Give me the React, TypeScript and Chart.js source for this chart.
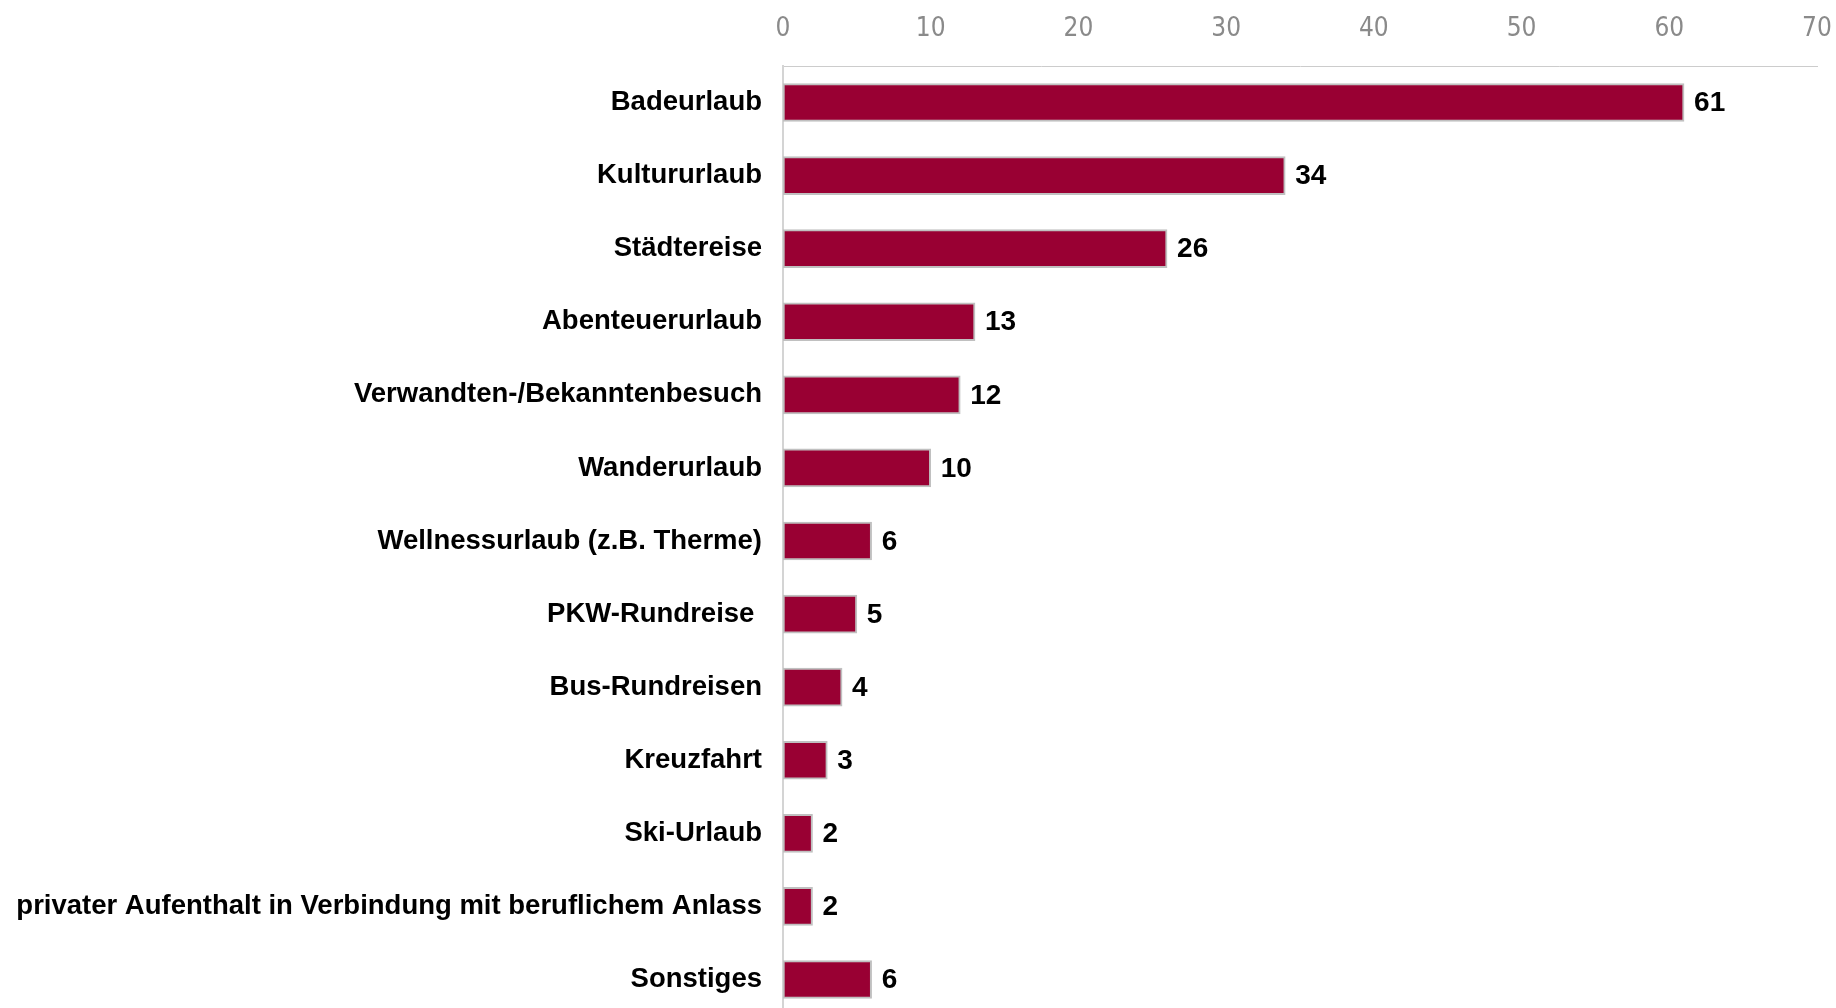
import React, { useEffect, useRef } from "react";
import { Chart, registerables } from "chart.js";

Chart.register(...registerables);

const categories = [
  "Badeurlaub",
  "Kultururlaub",
  "Städtereise",
  "Abenteuerurlaub",
  "Verwandten-/Bekanntenbesuch",
  "Wanderurlaub",
  "Wellnessurlaub (z.B. Therme)",
  "PKW-Rundreise ",
  "Bus-Rundreisen",
  "Kreuzfahrt",
  "Ski-Urlaub",
  "privater Aufenthalt in Verbindung mit beruflichem Anlass",
  "Sonstiges",
];
const values = [61, 34, 26, 13, 12, 10, 6, 5, 4, 3, 2, 2, 6];
const axisMin = 0;
const axisMax = 70;
const axisStep = 10;

const W = 1836;
const H = 1016;

const valueLabels = {
  id: "valueLabels",
  afterDatasetsDraw(chart: any) {
    const ctx = chart.ctx;
    const meta = chart.getDatasetMeta(0);
    const data = chart.data.datasets[0].data;
    ctx.save();
    ctx.font = "bold 28px 'Liberation Sans', Arial, sans-serif";
    ctx.fillStyle = "#000000";
    ctx.textAlign = "left";
    ctx.textBaseline = "middle";
    meta.data.forEach((bar: any, i: number) => {
      ctx.fillText(String(data[i]), bar.x + 10, bar.y + 1);
    });
    ctx.restore();
  },
};

export default function App() {
  const ref = useRef<HTMLCanvasElement | null>(null);
  useEffect(() => {
    if (!ref.current) return;
    const chart = new Chart(ref.current, {
      type: "bar",
      data: {
        labels: categories,
        datasets: [
          {
            data: values,
            backgroundColor: "#990033",
            borderColor: "#c0c0c0",
            borderWidth: 2,
            borderSkipped: false,
            barThickness: 38,
          },
        ],
      },
      options: {
        indexAxis: "y",
        responsive: false,
        animation: false,
        devicePixelRatio: 1,
        layout: { padding: { top: 0, right: 19, bottom: 0, left: 0 } },
        plugins: {
          legend: { display: false },
          tooltip: { enabled: false },
        },
        scales: {
          x: {
            position: "top",
            min: axisMin,
            max: axisMax,
            grid: { display: false, drawTicks: false },
            border: { display: true, color: "#cccccc", width: 1 },
            ticks: {
              stepSize: axisStep,
              padding: 21,
              color: "#8a8a8a",
              font: { family: "'Liberation Sans Narrow', 'DejaVu Sans Condensed', sans-serif", size: 26 },
            },
            afterFit: (scale: any) => {
              scale.height = 66;
              scale.paddingLeft = 0;
              scale.paddingRight = 0;
            },
          },
          y: {
            grid: { display: false, drawTicks: false },
            border: { display: true, color: "#d4d4d4", width: 2 },
            ticks: {
              padding: 21,
              color: "#000000",
              autoSkip: false,
              font: { family: "'Liberation Sans', Arial, sans-serif", size: 27.5, weight: "bold" },
            },
            afterFit: (scale: any) => {
              scale.width = 783;
              scale.paddingTop = 0;
              scale.paddingBottom = 0;
            },
          },
        },
      },
      plugins: [valueLabels],
    } as any);
    return () => chart.destroy();
  }, []);
  return (
    <div
      style={{
        position: "absolute",
        left: 0,
        top: 0,
        width: W,
        height: 1008,
        overflow: "hidden",
        background: "#ffffff",
      }}
    >
      <canvas ref={ref} width={W} height={H} style={{ display: "block" }} />
    </div>
  );
}
